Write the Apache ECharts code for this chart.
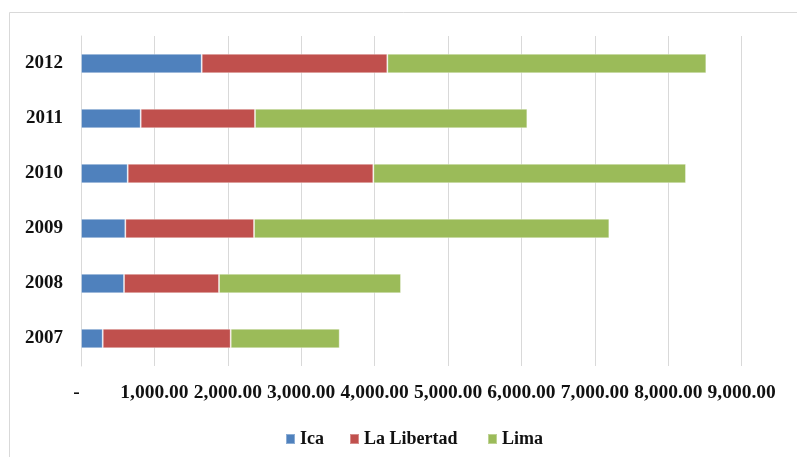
<!DOCTYPE html>
<html>
<head>
<meta charset="utf-8">
<script src="https://cdn.jsdelivr.net/npm/echarts@6/dist/echarts.min.js"></script>
<style>html,body{margin:0;padding:0;background:#fff;}#c{width:797px;height:457px;}</style>
</head>
<body>
<div id="c"></div>
<script>
const years = ['2007', '2008', '2009', '2010', '2011', '2012'];
const ica = [296, 586, 604, 636, 813, 1644];
const laLibertad = [1743, 1294, 1753, 3346, 1557, 2529];
const lima = [1485, 2479, 4840, 4259, 3710, 4345];
const xTicks = { min: 0, max: 9000, interval: 1000 };

const FONT = '"Liberation Serif", "Times New Roman", serif';
function fmt(v) {
  if (v === 0) return '{dash|-}';
  return v.toLocaleString('en-US', { minimumFractionDigits: 2, maximumFractionDigits: 2 });
}
const chart = echarts.init(document.getElementById('c'), null, { renderer: 'canvas' });
function bar(name, data, color) {
  return {
    name, type: 'bar', stack: 'total', data, barWidth: 19.5,
    itemStyle: { color, borderColor: 'rgba(255,255,255,0.35)', borderWidth: 1 },
    emphasis: { disabled: true }
  };
}
const legendBase = {
  top: 425, itemWidth: 9, itemHeight: 10, icon: 'rect', itemGap: 4,
  textStyle: { fontFamily: FONT, fontWeight: 'bold', fontSize: 18, color: '#111' },
  selectedMode: false
};
chart.setOption({
  animation: false,
  backgroundColor: '#fff',
  graphic: [{
    type: 'rect', shape: { x: 9.5, y: 12.5, width: 820, height: 480 },
    style: { fill: 'none', stroke: '#d9d9d9', lineWidth: 1 }, silent: true
  }],
  grid: { left: 81, right: 55.3, top: 36, bottom: 91, containLabel: false },
  legend: [
    Object.assign({}, legendBase, { left: 280, data: ['Ica'] }),
    Object.assign({}, legendBase, { left: 344, data: ['La Libertad'] }),
    Object.assign({}, legendBase, { left: 482, data: ['Lima'] })
  ],
  xAxis: {
    type: 'value', min: xTicks.min, max: xTicks.max, interval: xTicks.interval,
    axisLine: { show: false }, axisTick: { show: false },
    splitLine: { show: true, lineStyle: { color: '#d9d9d9', width: 1 } },
    axisLabel: {
      formatter: fmt, margin: 17, fontFamily: FONT, fontWeight: 'bold', fontSize: 19.5, color: '#111',
      rich: { dash: { fontFamily: FONT, fontWeight: 'bold', fontSize: 19.5, color: '#111', padding: [0, 9, 0, 0] } }
    }
  },
  yAxis: {
    type: 'category', data: years,
    axisLine: { show: true, lineStyle: { color: '#d9d9d9' } }, axisTick: { show: false },
    axisLabel: { margin: 18, padding: [6, 0, 0, 0], fontFamily: FONT, fontWeight: 'bold', fontSize: 19, color: '#111' }
  },
  series: [
    bar('Ica', ica, '#4F81BD'),
    bar('La Libertad', laLibertad, '#C0504D'),
    bar('Lima', lima, '#9BBB59')
  ]
});
</script>
</body>
</html>
